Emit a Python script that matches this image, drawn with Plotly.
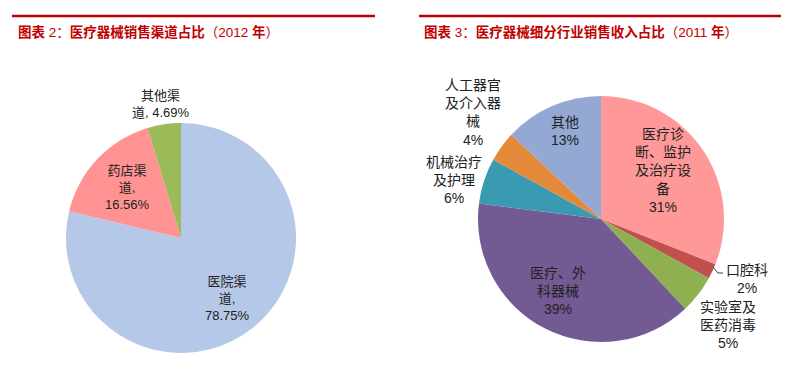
import re
import plotly.graph_objects as go

# ---- data ----
left_title = "图表 2：医疗器械销售渠道占比（2012 年）"
left_labels = ["医院渠道", "药店渠道", "其他渠道"]
left_values = [78.75, 16.56, 4.69]
left_text = ["医院渠<br>道,<br>78.75%", "药店渠<br>道,<br>16.56%", "其他渠<br>道, 4.69%"]

right_title = "图表 3：医疗器械细分行业销售收入占比（2011 年）"
right_labels = ["医疗诊断、监护及治疗设备", "口腔科", "实验室及医药消毒", "医疗、外科器械",
                "机械治疗及护理", "人工器官及介入器械", "其他"]
right_values = [31, 2, 5, 39, 6, 4, 13]
right_text = ["医疗诊<br>断、监护<br>及治疗设<br>备<br>31%", "口腔科<br>2%", "实验室及<br>医药消毒<br>5%",
              "医疗、外<br>科器械<br>39%", "机械治疗<br>及护理<br>6%", "人工器官<br>及介入器<br>械<br>4%",
              "其他<br>13%"]

# ---- styles / layout ----
OFF = 8                      # page body margin of the browser
W, H = 789 - 2 * OFF, 367 - 2 * OFF
RED = "#C00000"
TXT = "#222222"
FONT = "Liberation Sans, Arial, Noto Sans CJK SC"
left_colors = ["#B6C8E8", "#FF9393", "#9BBB59"]
right_colors = ["#FF9999", "#C0504D", "#8FB050", "#735A93", "#3A9AB1", "#E4893A", "#93A8D2"]
# label centres in page pixels
left_label_xy = [(227, 298), (127, 187), (161, 104)]
right_label_xy = [(663, 170), (747, 279), (728, 325), (558, 291), (454, 180), (473, 112), (565, 131)]


def px(x, y):
    return (x - OFF) / W, 1 - (y - OFF) / H


def px_dom(cx, cy, r):
    x0, y1 = px(cx - r, cy + r)
    x1, y0 = px(cx + r, cy - r)
    return dict(x=[x0, x1], y=[y1, y0])


def bold_cjk(s):
    return re.sub(r"([\u4e00-\u9fff]+)", r"<b>\1</b>", s)


fig = go.Figure()
fig.add_trace(go.Pie(
    labels=left_labels, values=left_values, textinfo="none",
    sort=False, direction="clockwise", rotation=0,
    marker=dict(colors=left_colors, line=dict(width=0)),
    domain=px_dom(181, 238, 115), showlegend=False, hoverinfo="label+percent",
))
fig.add_trace(go.Pie(
    labels=right_labels, values=right_values, textinfo="none",
    sort=False, direction="clockwise", rotation=0,
    marker=dict(colors=right_colors, line=dict(width=0)),
    domain=px_dom(601, 219, 123), showlegend=False, hoverinfo="label+percent",
))

for txt, (x, y), fs in ([(t, p, 13) for t, p in zip(left_text, left_label_xy)]
                        + [(t, p, 14) for t, p in zip(right_text, right_label_xy)]):
    ax, ay = px(x, y)
    fig.add_annotation(xref="paper", yref="paper", x=ax, y=ay, xanchor="center", yanchor="middle",
                       showarrow=False, text=txt, align="center",
                       font=dict(family=FONT, size=fs, color=TXT))

# leader line for 口腔科
p = [px(713, 267), px(718, 273), px(723, 273)]
fig.add_shape(type="path", xref="paper", yref="paper",
              path="M {} {} L {} {} L {} {}".format(*p[0], *p[1], *p[2]),
              line=dict(color="#404040", width=1))

for x0, x1, tx, title in [(12, 375, 16, left_title), (419, 781, 422, right_title)]:
    a0, ly = px(x0, 16)
    a1, _ = px(x1, 16)
    fig.add_shape(type="line", xref="paper", yref="paper", x0=a0, x1=a1, y0=ly, y1=ly,
                  line=dict(color=RED, width=2.5))
    tx0, ty = px(tx, 32)
    fig.add_annotation(xref="paper", yref="paper", x=tx0, y=ty, xanchor="left",
                       yanchor="middle", showarrow=False, text=bold_cjk(title),
                       font=dict(family=FONT, size=13.5, color=RED))

fig.update_layout(width=W, height=H, margin=dict(l=0, r=0, t=0, b=0),
                  paper_bgcolor="white", plot_bgcolor="white")
fig.write_html("out.html")
